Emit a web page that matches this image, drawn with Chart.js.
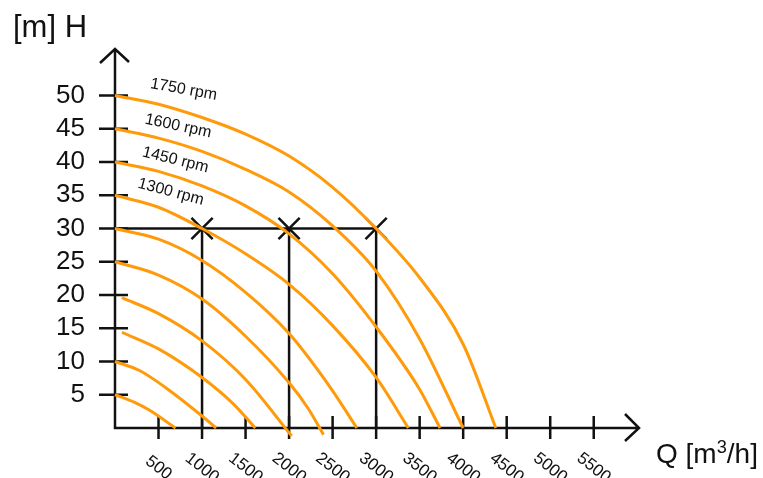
<!DOCTYPE html>
<html>
<head>
<meta charset="utf-8">
<script src="https://cdn.jsdelivr.net/npm/chart.js@4.4.1/dist/chart.umd.min.js"></script>
<style>
  body { margin: 0; background: #fff; }
  #wrap { position: relative; width: 763px; height: 478px; overflow: hidden; }
  .axis-title { position: absolute; font-family: "Liberation Sans", Arial, sans-serif; color: #111; white-space: nowrap; line-height: 1; }
  .axis-title sup { font-size: 0.65em; line-height: 0; vertical-align: 0.55em; }
</style>
</head>
<body>
<div id="wrap">
  <canvas id="pump" width="763" height="478"></canvas>
  <div class="axis-title" style="left:13px; top:11px; font-size:31px;">[m] H</div>
  <div class="axis-title" style="left:656px; top:440px; font-size:28px;">Q [m<sup>3</sup>/h]</div>
</div>
<script>
// tick labels
const xTickValues = [500, 1000, 1500, 2000, 2500, 3000, 3500, 4000, 4500, 5000, 5500];
const yTickValues = [5, 10, 15, 20, 25, 30, 35, 40, 45, 50];

// pump curves, Q [m3/h] and H [m] (inner curve first)
const curveFlows = [
  [0, 225, 393, 695],
  [0, 281, 579, 1000, 1161],
  [79, 500, 1000, 1362, 1611],
  [79, 500, 1000, 1500, 2030],
  [0, 500, 1000, 1500, 2000, 2221, 2395],
  [0, 500, 1000, 1500, 2000, 2500, 2778],
  [0, 500, 1000, 1500, 2000, 2500, 3000, 3370],
  [0, 500, 1000, 1500, 2000, 2500, 3000, 3500, 3734],
  [0, 500, 1000, 1500, 2000, 2500, 3000, 3500, 4000],
  [0, 500, 1000, 1500, 2000, 2500, 3000, 3500, 4000, 4375]
];
const curveHeads = [
  [5, 3.85, 2.7, 0],
  [10, 8.65, 6.1, 1.8, 0],
  [14.4, 11.9, 7.6, 3.6, 0],
  [19.6, 17.2, 13.1, 7.3, -1.2],
  [25, 23.0, 19.4, 13.8, 6.8, 2.9, -1.0],
  [30, 28.4, 25.2, 20.4, 14.2, 5.6, 0],
  [35, 33.2, 30, 26.2, 21.6, 15.4, 7.6, 0],
  [40, 38.6, 36.4, 33.4, 29.2, 23.2, 15.2, 5.8, 0],
  [45, 43.6, 41.6, 38.9, 35.5, 30.4, 23.6, 13.4, 0],
  [50, 48.7, 46.7, 44.2, 40.9, 36.2, 30, 22.6, 12.6, 0]
];

const rpmLabels = ['1750 rpm', '1600 rpm', '1450 rpm', '1300 rpm'];

// duty points
const dutyFlows = [1000, 2000, 3000];
const dutyHead = 30;

const X_MIN = 0, X_MAX = 6020;
const Y_MIN = 0, Y_MAX = 57;
const FONT = '"Liberation Sans", Arial, sans-serif';
const ORANGE = '#FF9A0A';
const INK = '#111';

// where the rpm labels sit (data coords) and their tilt
const rpmLayout = [
  { q: 789, h: 50.9, rot: 10 },
  { q: 725, h: 45.4, rot: 12 },
  { q: 694, h: 40.3, rot: 14 },
  { q: 641, h: 35.5, rot: 15 }
];

const curveSets = curveFlows.map((qs, i) => ({
  data: qs.map((q, j) => ({ x: q, y: curveHeads[i][j] })),
  borderColor: ORANGE,
  borderWidth: 3,
  pointRadius: 0,
  cubicInterpolationMode: 'monotone',
  fill: false,
  clip: 12
}));

const refLine = (pts) => ({
  data: pts,
  borderColor: INK,
  borderWidth: 2.5,
  pointRadius: 0,
  fill: false
});

const refSets = [
  refLine([{ x: X_MIN, y: dutyHead }, { x: dutyFlows[dutyFlows.length - 1], y: dutyHead }]),
  ...dutyFlows.map(q => refLine([{ x: q, y: Y_MIN }, { x: q, y: dutyHead }]))
];

const dutySet = {
  data: dutyFlows.map(q => ({ x: q, y: dutyHead })),
  showLine: false,
  pointStyle: 'crossRot',
  pointRadius: 15,
  pointBorderWidth: 2.5,
  pointBorderColor: INK,
  pointBackgroundColor: INK
};

const pumpAxes = {
  id: 'pumpAxes',
  beforeDatasetsDraw(chart) {
    const { ctx, chartArea: a, scales: { x, y } } = chart;
    ctx.save();
    ctx.strokeStyle = INK;
    ctx.lineWidth = 2.5;
    ctx.beginPath();
    ctx.moveTo(a.left, a.top);
    ctx.lineTo(a.left, a.bottom);
    ctx.lineTo(a.right, a.bottom);
    // arrow heads
    ctx.moveTo(a.left - 15, a.top + 14);
    ctx.lineTo(a.left, a.top);
    ctx.lineTo(a.left + 14, a.top + 13);
    ctx.moveTo(a.right - 14, a.bottom - 14);
    ctx.lineTo(a.right, a.bottom);
    ctx.lineTo(a.right - 14, a.bottom + 13);
    // tick marks crossing the axes
    y.ticks.forEach(t => {
      const py = y.getPixelForValue(t.value);
      ctx.moveTo(a.left - 16, py);
      ctx.lineTo(a.left + 13, py);
    });
    x.ticks.forEach(t => {
      const px = x.getPixelForValue(t.value);
      ctx.moveTo(px, a.bottom - 12);
      ctx.lineTo(px, a.bottom + 11);
    });
    ctx.stroke();
    ctx.restore();
  },
  afterDraw(chart) {
    const { ctx, chartArea: a, scales: { x, y } } = chart;
    ctx.save();
    ctx.fillStyle = INK;
    ctx.textAlign = 'center';
    ctx.textBaseline = 'middle';
    // slanted x tick labels
    ctx.font = '17px ' + FONT;
    x.ticks.forEach(t => {
      ctx.save();
      ctx.translate(x.getPixelForValue(t.value), a.bottom + 40);
      ctx.rotate(38 * Math.PI / 180);
      ctx.fillText(String(t.value), 0, 0);
      ctx.restore();
    });
    // rpm labels
    ctx.font = '16px ' + FONT;
    rpmLabels.forEach((txt, i) => {
      const p = rpmLayout[i];
      ctx.save();
      ctx.translate(x.getPixelForValue(p.q), y.getPixelForValue(p.h));
      ctx.rotate(p.rot * Math.PI / 180);
      ctx.fillText(txt, 0, 0);
      ctx.restore();
    });
    ctx.restore();
  }
};

new Chart(document.getElementById('pump').getContext('2d'), {
  type: 'line',
  data: { datasets: [...curveSets, ...refSets, dutySet] },
  options: {
    responsive: false,
    animation: false,
    devicePixelRatio: 1,
    layout: { padding: { top: 49, right: 124, left: 0, bottom: 0 } },
    plugins: { legend: { display: false }, tooltip: { enabled: false } },
    scales: {
      x: {
        type: 'linear',
        min: X_MIN,
        max: X_MAX,
        grid: { display: false, drawTicks: false },
        border: { display: false },
        ticks: { display: false },
        afterBuildTicks: s => { s.ticks = xTickValues.map(v => ({ value: v })); },
        afterFit: s => { s.height = 50; }
      },
      y: {
        type: 'linear',
        min: Y_MIN,
        max: Y_MAX,
        grid: { display: false, drawTicks: false },
        border: { display: false },
        ticks: { color: INK, padding: 30, font: { size: 26, family: FONT } },
        afterBuildTicks: s => { s.ticks = yTickValues.map(v => ({ value: v })); },
        afterFit: s => { s.width = 115; }
      }
    }
  },
  plugins: [pumpAxes]
});
</script>
</body>
</html>
